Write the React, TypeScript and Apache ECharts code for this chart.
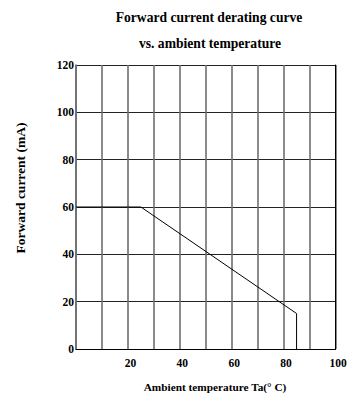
import React, { useEffect, useRef } from "react";
import * as echarts from "echarts";

const titleLines = ["Forward current derating curve", "vs. ambient temperature"];
const xAxisTitle = "Ambient temperature Ta(\u00B0 C)";
const yAxisTitle = "Forward current (mA)";
const xRange = [0, 100];
const yRange = [0, 120];
const xStep = 10;
const yStep = 20;
// derating curve points: [temperature °C, current mA]
const curveTemps = [0, 25, 85, 85];
const curveCurrents = [60, 60, 15, 0];

const FONT = "'Liberation Serif', 'DejaVu Serif', serif";

export default function App() {
  const ref = useRef<HTMLDivElement>(null);
  useEffect(() => {
    document.body.style.margin = "0";
    const chart = echarts.init(ref.current!, null, { renderer: "svg" });
    const data = curveTemps.map((t, i) => [t, curveCurrents[i]]);
    chart.setOption({
      animation: false,
      backgroundColor: "#fff",
      grid: { left: 76, right: 16.5, top: 65, bottom: 50, containLabel: false },
      graphic: [
        {
          type: "text",
          x: 209,
          y: 17,
          style: {
            text: titleLines[0],
            font: `bold 13.6px ${FONT}`,
            fill: "#000",
            textAlign: "center",
            textVerticalAlign: "middle",
          },
        },
        {
          type: "text",
          x: 210,
          y: 43,
          style: {
            text: titleLines[1],
            font: `bold 13.6px ${FONT}`,
            fill: "#000",
            textAlign: "center",
            textVerticalAlign: "middle",
          },
        },
        {
          type: "text",
          x: 20,
          y: 188,
          rotation: Math.PI / 2,
          style: {
            text: yAxisTitle,
            font: `bold 13.5px ${FONT}`,
            fill: "#000",
            textAlign: "center",
            textVerticalAlign: "middle",
          },
        },
        {
          type: "text",
          x: 215,
          y: 387,
          style: {
            text: xAxisTitle,
            font: `bold 11.3px ${FONT}`,
            fill: "#000",
            textAlign: "center",
            textVerticalAlign: "middle",
          },
        },
      ],
      xAxis: {
        type: "value",
        min: xRange[0],
        max: xRange[1],
        interval: xStep,
        axisLine: { show: true, lineStyle: { color: "#000", width: 1 } },
        axisTick: { show: false },
        axisLabel: {
          formatter: (v: number) => (v !== 0 && v % 20 === 0 ? String(v) : ""),
          color: "#000",
          fontFamily: FONT,
          fontWeight: "bold",
          fontSize: 11.5,
          margin: 8,
          padding: [0, 0, 0, 5],
          showMaxLabel: true,
        },
        splitLine: { show: true, lineStyle: { color: "#6e6e6e", width: 1.6 } },
      },
      yAxis: [
        {
          type: "value",
          min: yRange[0],
          max: yRange[1],
          interval: yStep,
          axisLine: { show: true, lineStyle: { color: "#6e6e6e", width: 1.6 } },
          axisTick: { show: false },
          axisLabel: {
            color: "#000",
            fontFamily: FONT,
            fontWeight: "bold",
            fontSize: 11.5,
            margin: 2,
          },
          splitLine: { show: true, lineStyle: { color: "#222", width: 1 } },
        },
        {
          type: "value",
          position: "right",
          min: yRange[0],
          max: yRange[1],
          interval: yStep,
          axisLine: { show: true, lineStyle: { color: "#000", width: 1 } },
          axisTick: { show: false },
          axisLabel: { show: false },
          splitLine: { show: false },
        },
      ],
      series: [
        {
          type: "line",
          data,
          yAxisIndex: 0,
          showSymbol: false,
          symbol: "none",
          lineStyle: { color: "#000", width: 1 },
          z: 5,
        },
      ],
    });
    return () => chart.dispose();
  }, []);
  return <div ref={ref} style={{ width: 352, height: 399 }} />;
}
